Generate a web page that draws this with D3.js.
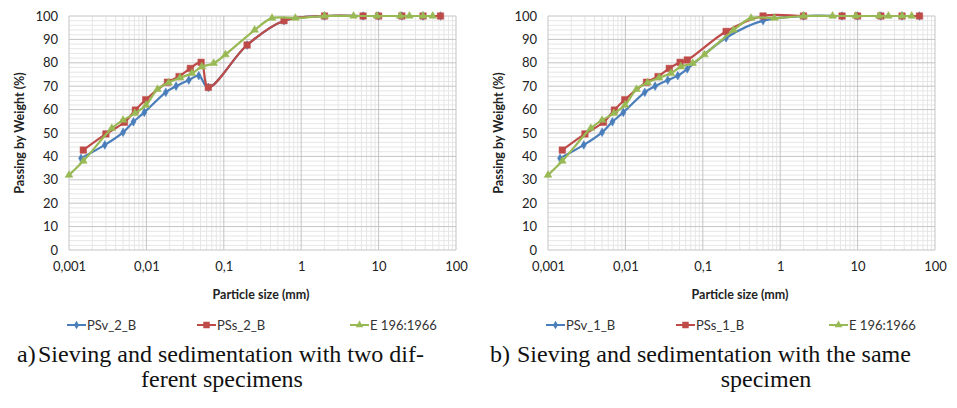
<!DOCTYPE html>
<html><head><meta charset="utf-8">
<script src="https://cdn.jsdelivr.net/npm/d3@7"></script>
<style>body{margin:0;background:#fff}svg{display:block}</style>
</head><body>
<svg id="c" width="957" height="408"></svg>
<script>
// ---------- data ----------
const xTickValues = [0.001, 0.01, 0.1, 1, 10, 100];
const xTickLabels = ["0,001", "0,01", "0,1", "1", "10", "100"];
const yTickValues = [0, 10, 20, 30, 40, 50, 60, 70, 80, 90, 100];

// chart a)
const aBlueName = "PSv_2_B";
const aBlueSize = [0.00143, 0.0029, 0.005, 0.0068, 0.0094, 0.0178, 0.0242, 0.0353, 0.0475, 0.063, 0.2, 0.6, 2, 6.3, 10, 20, 37.5, 63];
const aBlueVal  = [39.2, 44.9, 50.3, 54.8, 58.8, 67.4, 70.0, 72.6, 74.5, 69.5, 87.6, 98.0, 100, 100, 100, 100, 100, 100];
const aRedName = "PSs_2_B";
const aRedSize = [0.00153, 0.003, 0.0052, 0.0072, 0.0098, 0.0187, 0.0264, 0.0369, 0.0509, 0.063, 0.2, 0.6, 2, 6.3, 10, 20, 37.5, 63];
const aRedVal  = [42.7, 49.6, 54.6, 59.8, 64.2, 71.7, 74.1, 77.6, 80.2, 69.5, 87.6, 98.0, 100, 100, 100, 100, 100, 100];

// chart b)
const bBlueName = "PSv_1_B";
const bBlueSize = [0.00143, 0.0029, 0.005, 0.0068, 0.0094, 0.0178, 0.0242, 0.0353, 0.0475, 0.063, 0.2, 0.6, 2, 6.3, 10, 20, 37.5, 63];
const bBlueVal  = [39.2, 44.9, 50.3, 54.8, 58.8, 67.4, 70.0, 72.6, 74.5, 77.4, 90.7, 98.0, 100, 100, 100, 100, 100, 100];
const bRedName = "PSs_1_B";
const bRedSize = [0.00153, 0.003, 0.0052, 0.0072, 0.0098, 0.0187, 0.0264, 0.0369, 0.0509, 0.063, 0.2, 0.6, 2, 6.3, 10, 20, 37.5, 63];
const bRedVal  = [42.7, 49.6, 54.6, 59.8, 64.2, 71.7, 74.1, 77.6, 80.2, 81.2, 93.4, 100, 100, 100, 100, 100, 100, 100];

// reference curve (both charts)
const refName = "E 196:1966";
const refSize = [0.001, 0.00153, 0.00357, 0.005, 0.0071, 0.0099, 0.0139, 0.0193, 0.0272, 0.0387, 0.052, 0.074, 0.105, 0.25, 0.42, 0.84, 2, 4.75, 9.5, 19, 25, 37.5, 50];
const refVal  = [32.0, 38.0, 52.0, 55.5, 58.4, 62.0, 68.7, 71.5, 73.6, 75.5, 78.3, 79.8, 83.5, 94.0, 99.1, 99.1, 100, 100, 100, 100, 100, 100, 100];

const captionA = ["a)", "Sieving and sedimentation with two dif-", "ferent specimens"];
const captionB = ["b)", "Sieving and sedimentation with the same", "specimen"];

// ---------- drawing ----------
const COLORS = {blue: "#4a7ebb", red: "#be4b48", green: "#98b954"};
const svg = d3.select("#c");
const FONT = "Lato, 'Open Sans', sans-serif";

function drawChart(ox, series, caption, capLayout) {
  const g = svg.append("g");
  const x0 = ox + 69, x1 = ox + 456, yTop = 16, yBot = 250;
  const x = d3.scaleLog().domain([0.001, 100]).range([x0, x1]);
  const y = d3.scaleLinear().domain([0, 100]).range([yBot, yTop]);

  // minor grid
  const minorX = [];
  for (let k = -3; k < 2; k++) for (let m = 2; m <= 9; m++) minorX.push(m * Math.pow(10, k));
  g.selectAll(".mx").data(minorX).join("line")
    .attr("x1", d => x(d)).attr("x2", d => x(d)).attr("y1", yTop).attr("y2", yBot)
    .attr("stroke", "#e6e6e6").attr("stroke-width", 1);
  const minorY = d3.range(0, 101, 2).filter(v => v % 10 !== 0);
  g.selectAll(".my").data(minorY).join("line")
    .attr("x1", x0).attr("x2", x1).attr("y1", d => y(d)).attr("y2", d => y(d))
    .attr("stroke", "#e6e6e6").attr("stroke-width", 1);
  // major grid
  g.selectAll(".Mx").data(xTickValues).join("line")
    .attr("x1", d => x(d)).attr("x2", d => x(d)).attr("y1", yTop).attr("y2", yBot)
    .attr("stroke", "#c4c4c4").attr("stroke-width", 1);
  g.selectAll(".My").data(yTickValues).join("line")
    .attr("x1", x0).attr("x2", x1).attr("y1", d => y(d)).attr("y2", d => y(d))
    .attr("stroke", "#c4c4c4").attr("stroke-width", 1);

  // axes (labels only)
  const yAxis = d3.axisLeft(y).tickValues(yTickValues).tickSize(0).tickPadding(11);
  const ya = g.append("g").attr("transform", `translate(${x0},0)`).call(yAxis);
  ya.select(".domain").remove();
  ya.selectAll("text").attr("font-family", FONT).attr("font-size", 13).attr("fill", "#222");
  const xAxis = d3.axisBottom(x).tickValues(xTickValues).tickFormat((d, i) => xTickLabels[i]).tickSize(0).tickPadding(12);
  const xa = g.append("g").attr("transform", `translate(0,${yBot})`).call(xAxis);
  xa.select(".domain").remove();
  xa.selectAll("text").attr("font-family", FONT).attr("font-size", 13).attr("fill", "#222");

  g.append("text").attr("transform", `translate(${ox + 24},${(yTop + yBot) / 2}) rotate(-90)`)
    .attr("text-anchor", "middle").attr("font-family", FONT).attr("font-weight", "bold")
    .attr("font-size", 12.5).attr("fill", "#222").text("Passing by Weight (%)");
  g.append("text").attr("x", ox + 261).attr("y", 299).attr("text-anchor", "middle")
    .attr("font-family", FONT).attr("font-weight", "bold").attr("font-size", 12.5)
    .attr("fill", "#222").text("Particle size (mm)");

  const line = d3.line().x(d => x(d[0])).y(d => y(d[1])).curve(d3.curveCatmullRom.alpha(0.5));
  series.forEach(s => {
    const pts = s.size.map((d, i) => [d, s.val[i]]);
    g.append("path").attr("d", line(pts)).attr("fill", "none")
      .attr("stroke", s.color).attr("stroke-width", 2.2);
    g.selectAll(null).data(pts).join("path")
      .attr("transform", d => `translate(${x(d[0])},${y(d[1])})`)
      .attr("d", d3.symbol().type(s.sym).size(s.symSize))
      .attr("fill", s.color).attr("stroke", s.color).attr("stroke-width", 0.5);
  });

  // legend
  const legX = [ox + 67, ox + 197, ox + 350];
  series.forEach((s, i) => {
    const lx = legX[i], ly = 325;
    g.append("line").attr("x1", lx).attr("x2", lx + 19).attr("y1", ly).attr("y2", ly)
      .attr("stroke", s.color).attr("stroke-width", 2);
    g.append("path").attr("transform", `translate(${lx + 9.5},${ly})`)
      .attr("d", d3.symbol().type(s.sym).size(s.symSize)).attr("fill", s.color);
    g.append("text").attr("x", lx + 20).attr("y", ly + 4.5).attr("font-family", FONT)
      .attr("font-size", 13).attr("fill", "#333").text(s.name);
  });

  // caption
  const cap = g.append("g").attr("font-family", "'Liberation Serif', 'Times New Roman', serif")
    .attr("font-size", 24).attr("fill", "#111");
  cap.append("text").attr("x", ox + capLayout[0]).attr("y", 362).text(caption[0]);
  cap.append("text").attr("x", ox + 38).attr("y", 362).text(caption[1]);
  cap.append("text").attr("x", ox + capLayout[1]).attr("y", 387).attr("text-anchor", "middle").text(caption[2]);
}

drawChart(0, [
  {name: aBlueName, size: aBlueSize, val: aBlueVal, color: COLORS.blue, sym: d3.symbolDiamond, symSize: 22},
  {name: aRedName, size: aRedSize, val: aRedVal, color: COLORS.red, sym: d3.symbolSquare, symSize: 42},
  {name: refName, size: refSize, val: refVal, color: COLORS.green, sym: d3.symbolTriangle, symSize: 26}
], captionA, [17, 222]);

drawChart(479, [
  {name: bBlueName, size: bBlueSize, val: bBlueVal, color: COLORS.blue, sym: d3.symbolDiamond, symSize: 22},
  {name: bRedName, size: bRedSize, val: bRedVal, color: COLORS.red, sym: d3.symbolSquare, symSize: 42},
  {name: refName, size: refSize, val: refVal, color: COLORS.green, sym: d3.symbolTriangle, symSize: 26}
], captionB, [11, 287]);
</script>
</body></html>
